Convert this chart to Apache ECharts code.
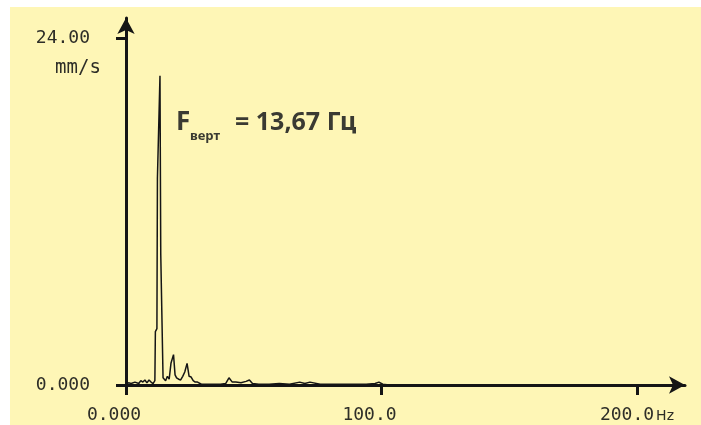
<!DOCTYPE html>
<html>
<head>
<meta charset="utf-8">
<script src="https://cdn.jsdelivr.net/npm/echarts@6/dist/echarts.min.js"></script>
<style>
  html, body { margin: 0; padding: 0; background: #ffffff; }
  #main { width: 701px; height: 425px; }
</style>
</head>
<body>
<div id="main"></div>
<script>
// spectrum (Hz / mm/s)
var freqHz = [0, 1, 2, 3.5, 5, 5.8, 6.6, 7.4, 8.2, 9, 9.8, 10.6, 11.3, 11.5, 12.1, 12.3, 13.3, 13.6, 14.2, 14.5,
  15.5, 16.2, 16.9, 17.6, 18.6, 19.2, 19.8, 20.6, 21.4, 22.2, 23.0, 23.9, 24.7, 25.5, 26.3, 27.1,
  28.0, 29.5, 31, 33, 35, 37, 39, 40.3, 40.9, 41.6, 43, 45, 47, 48.3, 49.5, 52, 56, 60, 64,
  68, 70, 72, 76, 82, 88, 94, 97.5, 99, 100.5, 103];
var ampMms = [0.05, 0.15, 0.1, 0.2, 0.1, 0.3, 0.2, 0.35, 0.15, 0.35, 0.2, 0.1, 0.3, 3.7, 3.9, 14.3, 21.4, 9.1, 9.1, 0.5,
  0.3, 0.6, 0.4, 1.5, 2.1, 0.7, 0.5, 0.4, 0.35, 0.6, 0.9, 1.5, 0.6, 0.55, 0.3, 0.2,
  0.2, 0.05, 0.05, 0.05, 0.05, 0.05, 0.1, 0.5, 0.4, 0.2, 0.2, 0.15, 0.25, 0.35, 0.1, 0.05, 0.05, 0.1, 0.05,
  0.2, 0.1, 0.2, 0.05, 0.05, 0.05, 0.05, 0.1, 0.2, 0.05, 0.0];

var xTicks = [0, 100, 200];
var xTickLabels = ['0.000', '100.0', '200.0'];
var yTicks = [0, 24];
var yTickLabels = ['0.000', '24.00'];

var pts = [];
for (var i = 0; i < freqHz.length; i++) {
  pts.push([freqHz[i], ampMms[i]]);
}

var mono = '"DejaVu Sans Mono", "Liberation Mono", monospace';
var ink = '#151515';
var txt = '#2e2e28';

var myChart = echarts.init(document.getElementById('main'));
var option = {
  backgroundColor: '#ffffff',
  animation: false,
  grid: { left: 126, right: 16, top: 18, bottom: 40 },
  xAxis: {
    type: 'value',
    min: 0,
    max: 218.8,
    splitLine: { show: false },
    axisLine: {
      onZero: false,
      lineStyle: { color: ink, width: 3 },
      symbol: ['none', 'arrow'],
      symbolSize: [13, 16]
    },
    axisTick: { customValues: xTicks, length: 10, lineStyle: { color: ink, width: 3 } },
    axisLabel: {
      customValues: xTicks,
      margin: 21,
      fontFamily: mono,
      fontSize: 18,
      color: txt,
      formatter: function (v) {
        var k = xTicks.indexOf(v);
        if (k === 2) return xTickLabels[k] + '{u|Hz}';
        return '{a|' + xTickLabels[k] + '}';
      },
      rich: {
        a: { fontFamily: mono, fontSize: 18, color: txt, padding: [0, 24, 0, 0] },
        u: { fontFamily: 'DejaVu Sans', fontSize: 14, color: txt, padding: [2, 0, 0, 2] }
      }
    }
  },
  yAxis: {
    type: 'value',
    min: 0,
    max: 25.4,
    splitLine: { show: false },
    axisLine: {
      lineStyle: { color: ink, width: 3 },
      symbol: ['none', 'arrow'],
      symbolSize: [13, 16]
    },
    axisTick: { customValues: yTicks, length: 10, lineStyle: { color: ink, width: 3 } },
    axisLabel: {
      customValues: yTicks,
      margin: 36,
      fontFamily: mono,
      fontSize: 18,
      color: txt,
      formatter: function (v) {
        return yTickLabels[yTicks.indexOf(v)];
      }
    }
  },
  graphic: [
    { type: 'rect', z: -10, shape: { x: 10, y: 7, width: 691, height: 418 }, style: { fill: '#fef6b6' } },
    { type: 'text', x: 78, y: 68, style: { text: 'mm/s', font: '19px ' + mono, fill: txt, textAlign: 'center', textVerticalAlign: 'middle' } },
    { type: 'text', x: 176, y: 123, style: { text: 'F', font: 'bold 26px "Noto Sans"', fill: '#3a3a32', textAlign: 'left', textVerticalAlign: 'middle' } },
    { type: 'text', x: 190, y: 136, style: { text: 'верт', font: 'bold 13px "Noto Sans"', fill: '#3a3a32', textAlign: 'left', textVerticalAlign: 'middle' } },
    { type: 'text', x: 235, y: 123, style: { text: '= 13,67 Гц', font: 'bold 25px "Noto Sans"', fill: '#3a3a32', textAlign: 'left', textVerticalAlign: 'middle' } }
  ],
  series: [
    {
      type: 'line',
      data: pts,
      showSymbol: false,
      lineStyle: { color: ink, width: 1.5 },
      z: 1
    }
  ]
};
myChart.setOption(option);
</script>
</body>
</html>
